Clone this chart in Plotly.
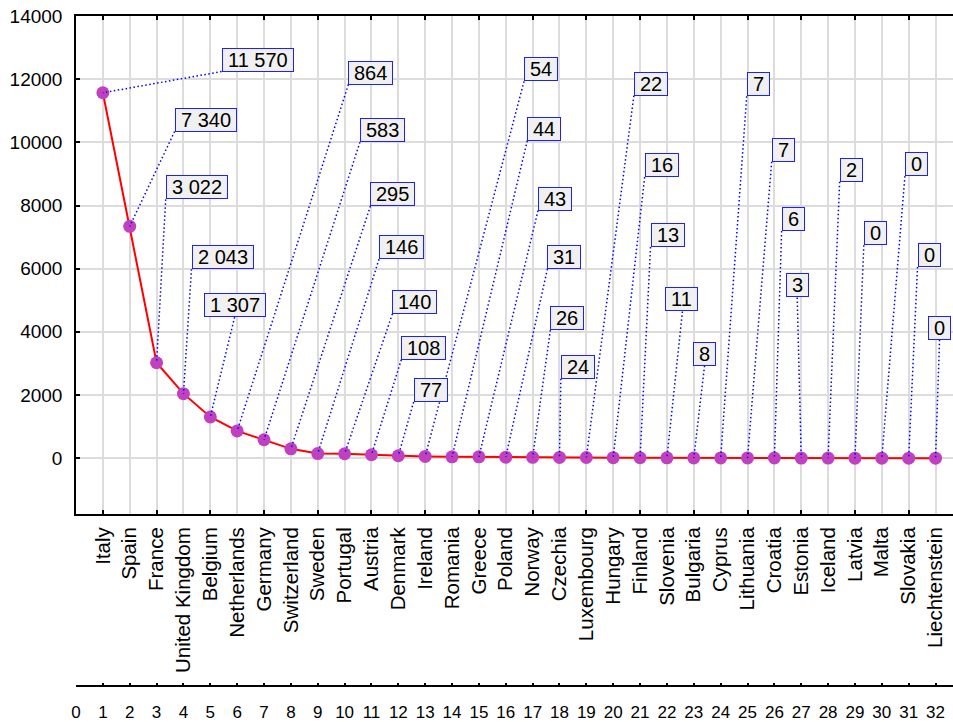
import plotly.graph_objects as go

countries = ["Italy", "Spain", "France", "United Kingdom", "Belgium", "Netherlands",
             "Germany", "Switzerland", "Sweden", "Portugal", "Austria", "Denmark",
             "Ireland", "Romania", "Greece", "Poland", "Norway", "Czechia",
             "Luxembourg", "Hungary", "Finland", "Slovenia", "Bulgaria", "Cyprus",
             "Lithuania", "Croatia", "Estonia", "Iceland", "Latvia", "Malta",
             "Slovakia", "Liechtenstein"]
cases = [11570, 7340, 3022, 2043, 1307, 864, 583, 295, 146, 140, 108, 77,
         54, 44, 43, 31, 26, 24, 22, 16, 13, 11, 8, 7, 7, 6, 3, 2, 0, 0, 0, 0]
positions = list(range(1, len(countries) + 1))
bottom_ticks = list(range(0, 33))

# label box bottom-left corners (data coordinates)
label_x = [5.42, 3.67, 3.34, 4.30, 4.75, 10.14, 10.57, 10.96, 11.28, 11.78, 12.11, 12.57,
           16.68, 16.80, 17.20, 17.55, 17.66, 18.05, 20.77, 21.17, 21.39, 21.94, 22.97,
           24.97, 25.90, 26.27, 26.42, 28.43, 29.33, 30.86, 31.33, 31.72]
label_y = [12240, 10343, 8194, 5982, 4465, 11828, 10005, 7982, 6298, 4569, 3116, 1779,
           11932, 10049, 7837, 5991, 4054, 2515, 11480, 8899, 6687, 4645, 2926,
           11458, 9385, 7192, 5088, 8753, 6740, 8930, 6055, 3748]

XMAX = 32.65
PLOT_W = 953 - 76
PX_PER_X = PLOT_W / XMAX
LABEL_FS = 20
PAD = "\u2005"


def fmt(v):
    return f"{v:,}".replace(",", " ")


def box_width_px(s):
    w = 0
    for ch in s:
        w += 0.278 * LABEL_FS if ch == " " else 0.556 * LABEL_FS
    return w + 2 * 0.25 * LABEL_FS + 2


fig = go.Figure()

fig.add_trace(go.Scatter(
    x=positions, y=cases, mode="lines+markers",
    line=dict(color="#ff0000", width=2),
    marker=dict(color="#c040c0", size=13),
    showlegend=False, hoverinfo="x+y"))

lx, ly = [], []
for px_, v, bx, by in zip(positions, cases, label_x, label_y):
    s = fmt(v)
    if px_ < bx:
        ax = bx
    else:
        ax = bx + box_width_px(s) / 2 / PX_PER_X
    lx += [ax, px_, None]
    ly += [by, v, None]

fig.add_trace(go.Scatter(
    x=lx, y=ly, mode="lines",
    line=dict(color="#0000ff", width=1.5, dash="1.5px,2.5px"),
    showlegend=False, hoverinfo="skip"))

# dummy traces to bind auxiliary axes
fig.add_trace(go.Scatter(x=[None], y=[None], xaxis="x2", yaxis="y", showlegend=False, hoverinfo="skip"))
fig.add_trace(go.Scatter(x=[None], y=[None], xaxis="x3", yaxis="y", showlegend=False, hoverinfo="skip"))

for v, bx, by in zip(cases, label_x, label_y):
    fig.add_annotation(
        x=bx, y=by, xref="x", yref="y", xanchor="left", yanchor="bottom",
        text=PAD + fmt(v) + PAD, showarrow=False,
        font=dict(family="Liberation Sans, Arial", size=LABEL_FS, color="#000000"),
        bgcolor="#f0f0f0", bordercolor="#2020ff", borderwidth=1, borderpad=0)

grid_c = "#dcdcdc"
fig.update_layout(
    width=953, height=722,
    margin=dict(l=76, r=0, t=16, b=0),
    paper_bgcolor="white", plot_bgcolor="white",
    font=dict(family="Liberation Sans, Arial", color="#000000"),
    showlegend=False,
    xaxis=dict(
        range=[0, XMAX], tickmode="linear", tick0=1, dtick=2,
        ticks="inside", ticklen=4, tickwidth=1.5, tickcolor="#000000",
        showline=True, linecolor="#000000", linewidth=1.5, mirror="ticks",
        showticklabels=False, showgrid=True, gridcolor=grid_c, gridwidth=1.5,
        zeroline=False,
        minor=dict(tickmode="linear", tick0=0, dtick=1, showgrid=True,
                   gridcolor=grid_c, gridwidth=1.5, ticks=""),
    ),
    xaxis3=dict(
        overlaying="x", anchor="y", side="bottom", range=[0, XMAX],
        tickmode="array", tickvals=positions, ticktext=countries,
        tickangle=-90, ticks="", showline=False, showgrid=False, zeroline=False,
        tickfont=dict(size=20.5), ticklabelstandoff=8,
    ),
    xaxis2=dict(
        overlaying="x", anchor="free", position=0.0463, side="bottom",
        range=[0, XMAX], tickmode="array", tickvals=bottom_ticks,
        ticks="inside", ticklen=3, tickwidth=1.5, tickcolor="#000000",
        showline=True, linecolor="#000000", linewidth=1.5,
        showgrid=False, zeroline=False, tickfont=dict(size=17),
        ticklabelstandoff=10,
    ),
    yaxis=dict(
        domain=[0.2915, 1], range=[-1770, 14000],
        tickmode="linear", tick0=0, dtick=2000, tickformat="d",
        ticks="inside", ticklen=4, tickwidth=1.5, tickcolor="#000000",
        showline=True, linecolor="#000000", linewidth=1.5, mirror=False,
        showgrid=True, gridcolor=grid_c, gridwidth=1.5, zeroline=False,
        tickfont=dict(size=19), ticklabelstandoff=8,
    ),
)

html = fig.to_html(full_html=True, include_plotlyjs=True,
                   config={"displayModeBar": False})
html = html.replace("<head>", "<head><style>html,body{margin:0;padding:0;overflow:hidden;}</style>", 1)
with open("out.html", "w", encoding="utf-8") as f:
    f.write(html)
